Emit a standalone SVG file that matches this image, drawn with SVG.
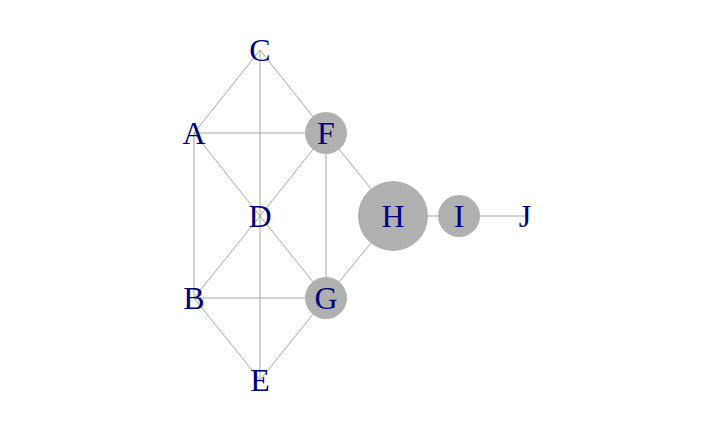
<svg xmlns="http://www.w3.org/2000/svg" width="720" height="432" viewBox="0 0 720 432">
<style>
.e{stroke:#a6a6a6;stroke-width:1;fill:none}
.n{fill:#b0b0b0;stroke:none}
.t{font-family:"Liberation Serif","Times New Roman",serif;font-size:32px;fill:#000080;text-anchor:middle}
</style>
<rect width="720" height="432" fill="#ffffff"/>
<g id="edges">
<line class="e" x1="194" y1="133" x2="260" y2="50"/>
<line class="e" x1="194" y1="133" x2="326" y2="133"/>
<line class="e" x1="194" y1="133" x2="260" y2="216"/>
<line class="e" x1="194" y1="133" x2="194" y2="298"/>
<line class="e" x1="260" y1="50" x2="260" y2="216"/>
<line class="e" x1="260" y1="50" x2="326" y2="133"/>
<line class="e" x1="194" y1="298" x2="260" y2="216"/>
<line class="e" x1="194" y1="298" x2="326" y2="298"/>
<line class="e" x1="194" y1="298" x2="260" y2="380"/>
<line class="e" x1="260" y1="216" x2="326" y2="133"/>
<line class="e" x1="260" y1="216" x2="326" y2="298"/>
<line class="e" x1="260" y1="216" x2="260" y2="380"/>
<line class="e" x1="326" y1="133" x2="326" y2="298"/>
<line class="e" x1="326" y1="133" x2="393" y2="216"/>
<line class="e" x1="326" y1="298" x2="393" y2="216"/>
<line class="e" x1="326" y1="298" x2="260" y2="380"/>
<line class="e" x1="393" y1="216" x2="459" y2="216"/>
<line class="e" x1="459" y1="216" x2="525" y2="216"/>
</g>
<g id="A"><text class="t" x="194" y="144">A</text></g>
<g id="B"><text class="t" x="194" y="309">B</text></g>
<g id="C"><text class="t" x="260" y="61">C</text></g>
<g id="D"><text class="t" x="260" y="227">D</text></g>
<g id="E"><text class="t" x="260" y="391">E</text></g>
<g id="F"><circle class="n" cx="326" cy="133" r="21"/><text class="t" x="326" y="144">F</text></g>
<g id="G"><circle class="n" cx="326" cy="298" r="21"/><text class="t" x="326" y="309">G</text></g>
<g id="H"><circle class="n" cx="393" cy="216" r="35"/><text class="t" x="393" y="227">H</text></g>
<g id="I"><circle class="n" cx="459" cy="216" r="21"/><text class="t" x="459" y="227">I</text></g>
<g id="J"><text class="t" x="525" y="227">J</text></g>
</svg>
